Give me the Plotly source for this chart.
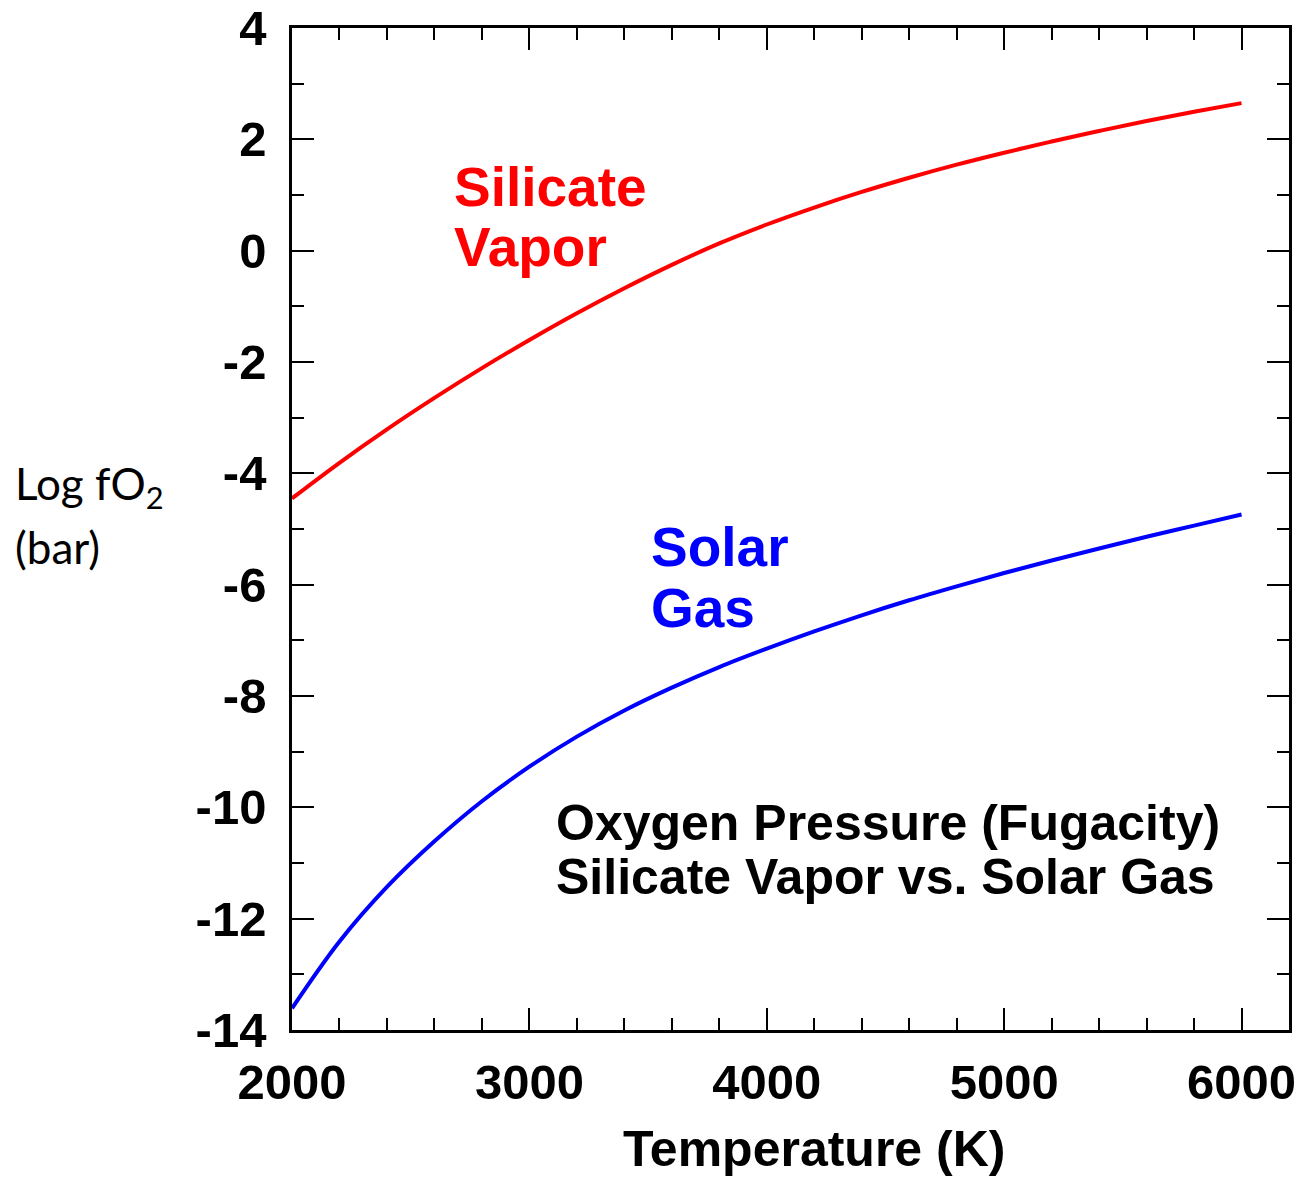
import plotly.graph_objects as go

# ---- data ----
temperature_K = [2000, 2200, 2400, 2600, 2800, 3000, 3200, 3400, 3600, 3800, 4000,
                 4200, 4400, 4600, 4800, 5000, 5200, 5400, 5600, 5800, 6000]
silicate_vapor_logfO2 = [-4.45, -3.81, -3.21, -2.645, -2.11, -1.605, -1.125, -0.675, -0.255, 0.13, 0.47,
                         0.775, 1.055, 1.31, 1.545, 1.76, 1.96, 2.15, 2.33, 2.495, 2.65]
solar_gas_logfO2 = [-13.61, -12.41, -11.43, -10.61, -9.89, -9.27, -8.73, -8.26, -7.85, -7.48, -7.15,
                    -6.84, -6.55, -6.28, -6.03, -5.79, -5.565, -5.35, -5.14, -4.94, -4.74]

x_tick_values = [2000, 3000, 4000, 5000, 6000]
x_tick_labels = ["2000", "3000", "4000", "5000", "6000"]
y_tick_values = [4, 2, 0, -2, -4, -6, -8, -10, -12, -14]
y_tick_labels = ["4", "2", "0", "-2", "-4", "-6", "-8", "-10", "-12", "-14"]

BOLD = "Liberation Sans"

fig = go.Figure()
fig.add_trace(go.Scatter(x=temperature_K, y=silicate_vapor_logfO2, mode="lines",
                         line=dict(color="#ff0000", width=4, shape="spline"),
                         name="Silicate Vapor", showlegend=False))
fig.add_trace(go.Scatter(x=temperature_K, y=solar_gas_logfO2, mode="lines",
                         line=dict(color="#0000ff", width=4, shape="spline"),
                         name="Solar Gas", showlegend=False))

axis_common = dict(showline=True, linecolor="black", linewidth=2.5, mirror="ticks",
                   ticks="inside", ticklen=22, tickwidth=2, tickcolor="black",
                   showgrid=False, zeroline=False, automargin=False,
                   ticklabeloverflow="allow",
                   tickfont=dict(family=BOLD, size=49, color="black", weight="bold"))

fig.update_xaxes(range=[2000, 6200], tickvals=x_tick_values, ticktext=x_tick_labels,
                 ticklabelstandoff=7,
                 minor=dict(dtick=200, ticklen=12, tickwidth=2, tickcolor="black",
                            ticks="inside", showgrid=False),
                 **axis_common)
fig.update_yaxes(range=[-14, 4], tickvals=y_tick_values, ticktext=y_tick_labels,
                 ticklabelstandoff=13,
                 minor=dict(dtick=1, ticklen=12, tickwidth=2, tickcolor="black",
                            ticks="inside", showgrid=False),
                 **axis_common)

def ann(text, x, y, size, color, family=BOLD, weight="bold", xref="x", yref="y",
        xanchor="left"):
    fig.add_annotation(text=text, x=x, y=y, xref=xref, yref=yref, showarrow=False,
                       xanchor=xanchor, yanchor="middle",
                       font=dict(family=family, size=size, color=color, weight=weight))

# curve labels
ann("Silicate", 2675, 1.142, 55, "#ff0000")
ann("Vapor", 2675, 0.065, 55, "#ff0000")
ann("Solar", 3504, -5.325, 55, "#0000ff")
ann("Gas", 3504, -6.42, 55, "#0000ff")
# description
ann("Oxygen Pressure (Fugacity)", 3104, -10.28, 50, "black")
ann("Silicate Vapor vs. Solar Gas", 3104, -11.25, 50, "black")
# axis titles
ann("Temperature (K)", 0.5237, -0.1184, 50, "black", xref="paper", yref="paper",
    xanchor="center")
ann("Log fO<sub>2</sub>", -0.2795, 0.5423, 44, "black", family="Lato", weight="normal",
    xref="paper", yref="paper")
ann("(bar)", -0.2795, 0.4824, 44, "black", family="Lato", weight="normal",
    xref="paper", yref="paper")

fig.update_layout(width=1294, height=1169,
                  margin=dict(l=284, r=13, t=20, b=147, autoexpand=False),
                  paper_bgcolor="white", plot_bgcolor="white",
                  showlegend=False)

fig.write_html("out.html")
